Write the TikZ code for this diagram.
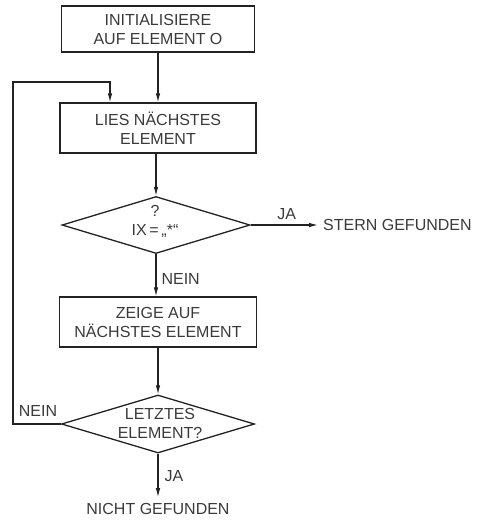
\documentclass[tikz,border=0pt]{standalone}
\usepackage{fontspec}
\setmainfont{Liberation Sans}
\usetikzlibrary{shapes.geometric,arrows.meta}
\definecolor{ink}{HTML}{222222}
\definecolor{txt}{HTML}{3A3A3A}
\begin{document}
\begin{tikzpicture}[x=1pt,y=-1pt,
 every node/.style={font=\fontsize{16}{19}\selectfont, text=txt},
 proc/.style={draw=ink, line width=1.3pt, rectangle, inner sep=0pt, align=center},
 dec/.style={draw=ink, line width=1.3pt, diamond, aspect=3.3, inner sep=0pt},
 conn/.style={draw=ink, line width=1.1pt},
 arr/.style={conn, -{Latex[length=9pt,width=4.5pt]}},
 lbl/.style={inner sep=0pt, align=center}]
\useasboundingbox (0,0) rectangle (480,520);
\node[proc, minimum width=193pt, minimum height=46pt] (init) at (158,29) {INITIALISIERE\\AUF ELEMENT O};
\node[proc, minimum width=196pt, minimum height=50pt] (read) at (158,128) {LIES NÄCHSTES\\ELEMENT};
\node[dec, minimum width=188pt, minimum height=57pt] (q1) at (156,225) {};
\node[lbl] (q1t) at (155,221) {?\\IX\,=\,„*“};
\node[proc, minimum width=197pt, minimum height=50pt] (next) at (158,322) {ZEIGE AUF\\NÄCHSTES ELEMENT};
\node[dec, minimum width=193pt, minimum height=58pt] (q2) at (158,424) {};
\node[lbl] (q2t) at (160,423) {LETZTES\\ELEMENT?};
\node[lbl, anchor=west] (found) at (323,225) {STERN GEFUNDEN};
\node[lbl] (notfound) at (158,509) {NICHT GEFUNDEN};
\coordinate (lb) at (13,82);
\draw[arr] (init.south) -- (read.north);
\draw[arr] (read.south -| q1.north) -- (q1.north);
\draw[arr, shorten >=5pt] (q1.east) -- node[lbl, above=5pt] (ja1) {JA} (found.west);
\draw[arr] (q1.south) -- node[lbl, right=5pt, pos=0.6] (nein1) {NEIN} (q1.south |- next.north);
\draw[arr] (next.south) -- (q2.north);
\draw[arr, shorten >=6pt] (q2.south) -- node[lbl, right=6pt, pos=0.45] (ja2) {JA} (notfound.north);
\draw[arr] (q2.west) -| (lb) -| ([xshift=-48pt]read.north);
\node[lbl] (nein2) at (38,411) {NEIN};
\end{tikzpicture}
\end{document}
